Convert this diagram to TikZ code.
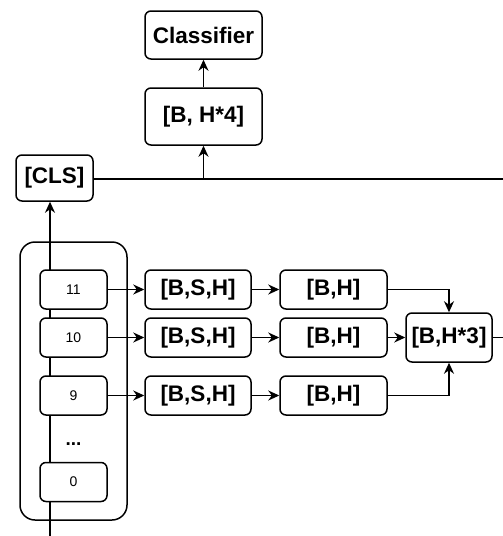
\documentclass[tikz,border=0pt]{standalone}
\usepackage{fontspec}
\setmainfont{Liberation Sans}
\usetikzlibrary{arrows.meta}
\begin{document}
\begin{tikzpicture}[x=1pt,y=-1pt,line width=1.5pt,
  box/.style={draw,rounded corners=6pt,fill=white,inner sep=0pt,font=\fontsize{22.5}{25}\selectfont\bfseries},
  layer/.style={draw,rounded corners=6pt,fill=white,inner sep=0pt,minimum width=67pt,minimum height=39pt,font=\fontsize{14}{16}\selectfont},
  arr/.style={-{Stealth[length=11pt,width=10pt,inset=3.5pt]}}]
\useasboundingbox (0,0) rectangle (503,536);
% container
\node[draw,rounded corners=15pt,minimum width=107pt,minimum height=278pt,inner sep=0pt] (cont) at (73.5,381) {};
% top boxes
\node[box,minimum width=117pt,minimum height=48pt] (clf) at (203.5,35) {Classifier};
\node[box,minimum width=117pt,minimum height=57pt] (bh4) at (203.5,116.5) {[B, H*4]};
\node[box,minimum width=77pt,minimum height=46pt] (cls) at (54.5,178) {[CLS]};
% vertical backbone
\coordinate (in) at (50,536);
\draw[arr] (in) -- (in |- cls.south);
% layers
\node[layer] (l11) at (73.5,289.5) {11};
\node[layer] (l10) at (73.5,337.5) {10};
\node[layer] (l9) at (73.5,395.5) {9};
\node[font=\fontsize{19}{21}\selectfont\bfseries] (dots) at (73.5,444) {...};
\node[layer] (l0) at (73.5,482) {0};
% BSH
\node[box,minimum width=106pt,minimum height=39pt] (s11) at (198,289.5) {[B,S,H]};
\node[box,minimum width=106pt,minimum height=39pt] (s10) at (198,337.5) {[B,S,H]};
\node[box,minimum width=106pt,minimum height=39pt] (s9) at (198,395.5) {[B,S,H]};
% BH
\node[box,minimum width=107pt,minimum height=39pt] (h11) at (333.5,289.5) {[B,H]};
\node[box,minimum width=107pt,minimum height=39pt] (h10) at (333.5,337.5) {[B,H]};
\node[box,minimum width=107pt,minimum height=39pt] (h9) at (333.5,395.5) {[B,H]};
% BH3
\node[box,minimum width=86pt,minimum height=49pt] (h3) at (449,337.5) {[B,H*3]};
% edges
\draw[arr] (l11) -- (s11);
\draw[arr] (l10) -- (s10);
\draw[arr] (l9) -- (s9);
\draw[arr] (s11) -- (h11);
\draw[arr] (s10) -- (h10);
\draw[arr] (s9) -- (h9);
\draw[arr] (h11.east) -| (h3.north);
\draw[arr] (h10) -- (h3);
\draw[arr] (h9.east) -| (h3.south);
\coordinate (e1) at (503,337.5);
\draw (h3.east) -- (e1);
\coordinate (e2) at (503,179);
\draw (cls.east |- e2) -- (e2);
\draw[arr] (bh4.south |- e2) -- (bh4.south);
\draw[arr] (bh4) -- (clf);
\end{tikzpicture}
\end{document}
